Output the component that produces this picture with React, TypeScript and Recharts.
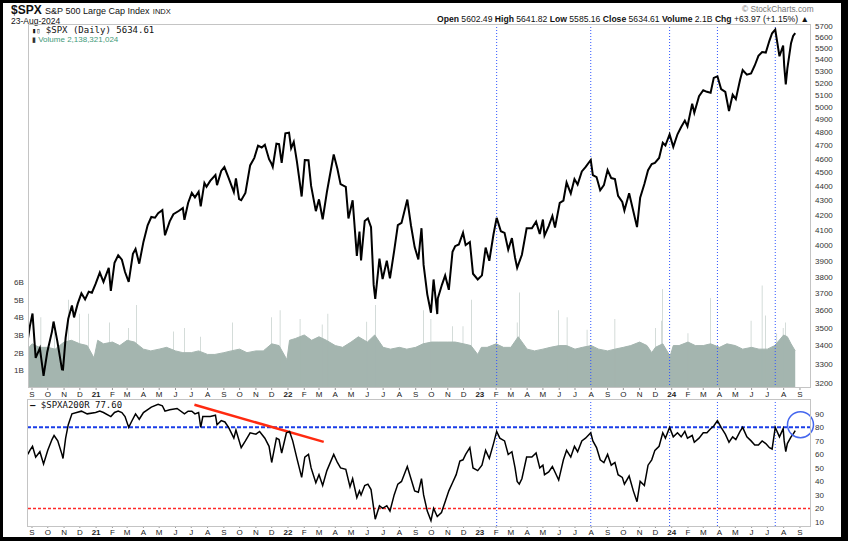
import React from 'react';
import { ComposedChart, LineChart, Line, Area, Bar, XAxis, YAxis, ReferenceLine, ReferenceDot } from 'recharts';

// daily close of $SPX
const spx: [string, number][] = [
  ['2020-08-24', 3431], ['2020-08-28', 3508], ['2020-09-02', 3580], ['2020-09-08', 3332], ['2020-09-16', 3385],
  ['2020-09-23', 3237], ['2020-09-30', 3363], ['2020-10-09', 3477], ['2020-10-12', 3534], ['2020-10-19', 3427],
  ['2020-10-28', 3271], ['2020-10-30', 3270], ['2020-11-04', 3443], ['2020-11-09', 3550], ['2020-11-16', 3627],
  ['2020-11-20', 3558], ['2020-11-27', 3638], ['2020-12-04', 3699], ['2020-12-11', 3663], ['2020-12-18', 3709],
  ['2020-12-24', 3703], ['2020-12-31', 3756], ['2021-01-08', 3825], ['2021-01-15', 3768], ['2021-01-25', 3855],
  ['2021-01-29', 3714], ['2021-02-05', 3887], ['2021-02-12', 3934], ['2021-02-19', 3906], ['2021-02-25', 3829],
  ['2021-03-04', 3768], ['2021-03-12', 3943], ['2021-03-17', 3974], ['2021-03-24', 3881], ['2021-04-01', 4020],
  ['2021-04-09', 4129], ['2021-04-16', 4185], ['2021-04-23', 4180], ['2021-04-29', 4211], ['2021-05-07', 4232],
  ['2021-05-12', 4063], ['2021-05-21', 4156], ['2021-05-28', 4204], ['2021-06-07', 4226], ['2021-06-15', 4246],
  ['2021-06-18', 4166], ['2021-06-25', 4281], ['2021-07-02', 4352], ['2021-07-08', 4320], ['2021-07-15', 4360],
  ['2021-07-19', 4258], ['2021-07-26', 4422], ['2021-07-30', 4395], ['2021-08-06', 4437], ['2021-08-16', 4479],
  ['2021-08-19', 4406], ['2021-08-27', 4509], ['2021-09-02', 4537], ['2021-09-10', 4459], ['2021-09-20', 4358],
  ['2021-09-24', 4455], ['2021-09-30', 4308], ['2021-10-04', 4300], ['2021-10-12', 4351], ['2021-10-21', 4549],
  ['2021-10-29', 4605], ['2021-11-05', 4697], ['2021-11-12', 4683], ['2021-11-18', 4704], ['2021-11-26', 4595],
  ['2021-11-30', 4567], ['2021-12-03', 4538], ['2021-12-10', 4712], ['2021-12-15', 4709], ['2021-12-20', 4568],
  ['2021-12-27', 4791], ['2022-01-03', 4796], ['2022-01-07', 4677], ['2022-01-12', 4726], ['2022-01-18', 4577],
  ['2022-01-24', 4410], ['2022-01-27', 4326], ['2022-02-02', 4589], ['2022-02-09', 4587], ['2022-02-14', 4401],
  ['2022-02-23', 4225], ['2022-03-01', 4306], ['2022-03-08', 4170], ['2022-03-16', 4357], ['2022-03-21', 4461],
  ['2022-03-29', 4631], ['2022-04-05', 4525], ['2022-04-11', 4413], ['2022-04-21', 4394], ['2022-04-26', 4175],
  ['2022-05-04', 4300], ['2022-05-12', 3930], ['2022-05-17', 4088], ['2022-05-20', 3901], ['2022-05-27', 4158],
  ['2022-06-02', 4176], ['2022-06-08', 4116], ['2022-06-13', 3750], ['2022-06-16', 3666], ['2022-06-24', 3912],
  ['2022-06-30', 3785], ['2022-07-08', 3899], ['2022-07-14', 3790], ['2022-07-22', 3962], ['2022-07-29', 4130],
  ['2022-08-05', 4145], ['2022-08-16', 4305], ['2022-08-23', 4128], ['2022-08-30', 3986], ['2022-09-06', 3908],
  ['2022-09-12', 4110], ['2022-09-16', 3873], ['2022-09-23', 3693], ['2022-09-30', 3585], ['2022-10-05', 3783],
  ['2022-10-12', 3577], ['2022-10-13', 3669], ['2022-10-21', 3752], ['2022-10-27', 3807], ['2022-11-03', 3720],
  ['2022-11-10', 3956], ['2022-11-15', 3992], ['2022-11-22', 4003], ['2022-11-30', 4080], ['2022-12-05', 3999],
  ['2022-12-13', 4019], ['2022-12-19', 3818], ['2022-12-28', 3783], ['2023-01-05', 3808], ['2023-01-12', 3983],
  ['2023-01-19', 3899], ['2023-01-27', 4070], ['2023-02-02', 4179], ['2023-02-10', 4090], ['2023-02-17', 4079],
  ['2023-02-24', 3970], ['2023-03-03', 4045], ['2023-03-09', 3918], ['2023-03-13', 3855], ['2023-03-22', 3937],
  ['2023-03-31', 4109], ['2023-04-10', 4109], ['2023-04-18', 4154], ['2023-04-25', 4071], ['2023-05-01', 4168],
  ['2023-05-04', 4061], ['2023-05-12', 4124], ['2023-05-19', 4192], ['2023-05-24', 4115], ['2023-06-02', 4282],
  ['2023-06-09', 4298], ['2023-06-15', 4425], ['2023-06-23', 4348], ['2023-06-30', 4450], ['2023-07-06', 4411],
  ['2023-07-14', 4505], ['2023-07-21', 4536], ['2023-07-31', 4589], ['2023-08-04', 4478], ['2023-08-11', 4464],
  ['2023-08-18', 4370], ['2023-08-25', 4406], ['2023-09-01', 4515], ['2023-09-08', 4457], ['2023-09-15', 4450],
  ['2023-09-21', 4330], ['2023-09-29', 4288], ['2023-10-03', 4229], ['2023-10-12', 4349], ['2023-10-20', 4224],
  ['2023-10-27', 4117], ['2023-11-02', 4318], ['2023-11-10', 4415], ['2023-11-17', 4514], ['2023-11-24', 4559],
  ['2023-11-30', 4568], ['2023-12-08', 4604], ['2023-12-15', 4719], ['2023-12-20', 4698], ['2023-12-28', 4783],
  ['2024-01-04', 4688], ['2024-01-12', 4784], ['2024-01-19', 4840], ['2024-01-26', 4891], ['2024-01-31', 4846],
  ['2024-02-09', 5027], ['2024-02-13', 4954], ['2024-02-22', 5088], ['2024-03-01', 5137], ['2024-03-08', 5124],
  ['2024-03-15', 5117], ['2024-03-21', 5241], ['2024-03-28', 5254], ['2024-04-04', 5147], ['2024-04-12', 5123],
  ['2024-04-19', 4967], ['2024-04-26', 5100], ['2024-05-02', 5064], ['2024-05-10', 5223], ['2024-05-15', 5308],
  ['2024-05-23', 5268], ['2024-05-31', 5278], ['2024-06-07', 5347], ['2024-06-14', 5431], ['2024-06-21', 5465],
  ['2024-06-28', 5460], ['2024-07-05', 5567], ['2024-07-10', 5633], ['2024-07-16', 5667], ['2024-07-24', 5427],
  ['2024-07-31', 5522], ['2024-08-02', 5346], ['2024-08-05', 5186], ['2024-08-08', 5319], ['2024-08-15', 5543],
  ['2024-08-19', 5608], ['2024-08-23', 5634],
];

// $SPXA200R - % of S&P 500 stocks above their 200 day MA
const breadth: [string, number][] = [
  ['2020-08-24', 60], ['2020-08-28', 63], ['2020-09-02', 66], ['2020-09-08', 58], ['2020-09-16', 62],
  ['2020-09-23', 53], ['2020-10-01', 63], ['2020-10-09', 71], ['2020-10-13', 74], ['2020-10-20', 70],
  ['2020-10-28', 60], ['2020-10-30', 57], ['2020-11-04', 72], ['2020-11-09', 82], ['2020-11-16', 90],
  ['2020-11-25', 91], ['2020-12-04', 92], ['2020-12-15', 90], ['2020-12-31', 91], ['2021-01-08', 92],
  ['2021-01-15', 91], ['2021-01-29', 88], ['2021-02-05', 91], ['2021-02-12', 92], ['2021-02-19', 91],
  ['2021-02-25', 88], ['2021-03-04', 80], ['2021-03-09', 84], ['2021-03-17', 90], ['2021-03-24', 86],
  ['2021-04-01', 91], ['2021-04-16', 95], ['2021-04-29', 97], ['2021-05-07', 96], ['2021-05-12', 92],
  ['2021-05-21', 93], ['2021-06-04', 94], ['2021-06-18', 90], ['2021-06-25', 92], ['2021-07-02', 92],
  ['2021-07-08', 90], ['2021-07-15', 91], ['2021-07-19', 80], ['2021-07-23', 88], ['2021-08-06', 88],
  ['2021-08-16', 89], ['2021-08-19', 82], ['2021-08-27', 85], ['2021-09-03', 84], ['2021-09-10', 80],
  ['2021-09-20', 72], ['2021-09-24', 78], ['2021-10-04', 65], ['2021-10-12', 70], ['2021-10-21', 76],
  ['2021-11-01', 75], ['2021-11-08', 77], ['2021-11-18', 72], ['2021-11-26', 66], ['2021-12-01', 54],
  ['2021-12-03', 58], ['2021-12-10', 72], ['2021-12-15', 71], ['2021-12-20', 61], ['2021-12-29', 76],
  ['2022-01-04', 77], ['2022-01-10', 70], ['2022-01-18', 57], ['2022-01-27', 43], ['2022-02-02', 58],
  ['2022-02-09', 60], ['2022-02-14', 50], ['2022-02-23', 39], ['2022-03-01', 45], ['2022-03-08', 37],
  ['2022-03-16', 48], ['2022-03-29', 60], ['2022-04-05', 54], ['2022-04-11', 50], ['2022-04-21', 49],
  ['2022-04-29', 36], ['2022-05-04', 42], ['2022-05-12', 28], ['2022-05-17', 33], ['2022-05-20', 30],
  ['2022-05-27', 37], ['2022-06-02', 38], ['2022-06-08', 34], ['2022-06-16', 12], ['2022-06-24', 22],
  ['2022-06-30', 20], ['2022-07-08', 22], ['2022-07-14', 18], ['2022-07-22', 30], ['2022-07-29', 38],
  ['2022-08-05', 40], ['2022-08-16', 51], ['2022-08-23', 42], ['2022-08-30', 33], ['2022-09-06', 32],
  ['2022-09-12', 42], ['2022-09-16', 30], ['2022-09-23', 18], ['2022-09-30', 11], ['2022-10-05', 20],
  ['2022-10-12', 14], ['2022-10-20', 17], ['2022-10-27', 25], ['2022-11-03', 33], ['2022-11-10', 39],
  ['2022-11-17', 45], ['2022-11-24', 55], ['2022-11-30', 56], ['2022-12-05', 60], ['2022-12-13', 65],
  ['2022-12-19', 50], ['2022-12-28', 48], ['2023-01-05', 52], ['2023-01-12', 63], ['2023-01-19', 57],
  ['2023-01-27', 68], ['2023-02-02', 77], ['2023-02-08', 72], ['2023-02-17', 70], ['2023-02-24', 60],
  ['2023-03-03', 62], ['2023-03-09', 50], ['2023-03-13', 40], ['2023-03-17', 38], ['2023-03-22', 42],
  ['2023-03-31', 58], ['2023-04-10', 58], ['2023-04-18', 61], ['2023-04-25', 50], ['2023-05-01', 52],
  ['2023-05-04', 45], ['2023-05-12', 47], ['2023-05-19', 51], ['2023-05-31', 41], ['2023-06-09', 56],
  ['2023-06-15', 63], ['2023-06-23', 58], ['2023-06-30', 66], ['2023-07-06', 62], ['2023-07-14', 70],
  ['2023-07-21', 72], ['2023-07-31', 76], ['2023-08-04', 70], ['2023-08-11', 65], ['2023-08-18', 56],
  ['2023-08-25', 54], ['2023-09-01', 60], ['2023-09-08', 52], ['2023-09-15', 54], ['2023-09-21', 45],
  ['2023-09-29', 43], ['2023-10-03', 38], ['2023-10-12', 44], ['2023-10-20', 33], ['2023-10-27', 25],
  ['2023-11-02', 40], ['2023-11-10', 37], ['2023-11-17', 52], ['2023-11-24', 56], ['2023-11-30', 63],
  ['2023-12-08', 66], ['2023-12-15', 76], ['2023-12-20', 72], ['2023-12-28', 80], ['2024-01-04', 73],
  ['2024-01-12', 76], ['2024-01-19', 73], ['2024-01-26', 77], ['2024-01-31', 72], ['2024-02-09', 74],
  ['2024-02-13', 69], ['2024-02-22', 72], ['2024-03-01', 76], ['2024-03-08', 76], ['2024-03-15', 79],
  ['2024-03-21', 81], ['2024-03-28', 85], ['2024-04-04', 80], ['2024-04-12', 75], ['2024-04-19', 69],
  ['2024-04-26', 73], ['2024-05-02', 71], ['2024-05-10', 77], ['2024-05-15', 80], ['2024-05-23', 73],
  ['2024-05-31', 70], ['2024-06-07', 67], ['2024-06-14', 67], ['2024-06-21', 70], ['2024-06-28', 68],
  ['2024-07-05', 65], ['2024-07-10', 64], ['2024-07-16', 80], ['2024-07-24', 73], ['2024-07-31', 79],
  ['2024-08-02', 70], ['2024-08-05', 62], ['2024-08-08', 68], ['2024-08-15', 73], ['2024-08-19', 75],
  ['2024-08-23', 77.6],
];

// volume in billions: typical level, plus the single-day spikes
const volumeBase: [string, number][] = [
  ['2020-08-24', 2.2], ['2020-09-01', 2.5], ['2020-09-15', 2.3], ['2020-10-01', 2.3], ['2020-10-15', 2.2],
  ['2020-11-01', 2.6], ['2020-11-15', 2.7], ['2020-12-01', 2.5], ['2020-12-15', 2.4], ['2020-12-28', 1.7],
  ['2021-01-04', 2.7], ['2021-01-15', 2.5], ['2021-02-01', 2.6], ['2021-02-15', 2.4], ['2021-03-01', 2.7],
  ['2021-03-15', 2.6], ['2021-04-01', 2.2], ['2021-04-15', 2.1], ['2021-05-01', 2.2], ['2021-05-15', 2.3],
  ['2021-06-01', 2.1], ['2021-06-15', 2.0], ['2021-07-01', 2.0], ['2021-07-15', 2.1], ['2021-08-01', 1.9],
  ['2021-08-15', 1.9], ['2021-09-01', 2.0], ['2021-09-15', 2.1], ['2021-10-01', 2.2], ['2021-10-15', 2.0],
  ['2021-11-01', 2.1], ['2021-11-15', 2.1], ['2021-12-01', 2.5], ['2021-12-15', 2.4], ['2021-12-30', 1.6],
  ['2022-01-04', 2.7], ['2022-01-15', 2.8], ['2022-02-01', 3.0], ['2022-02-15', 2.7], ['2022-03-01', 2.9],
  ['2022-03-15', 2.7], ['2022-04-01', 2.4], ['2022-04-15', 2.3], ['2022-05-01', 2.6], ['2022-05-15', 2.9],
  ['2022-06-01', 2.6], ['2022-06-15', 3.0], ['2022-07-01', 2.3], ['2022-07-15', 2.2], ['2022-08-01', 2.3],
  ['2022-08-15', 2.2], ['2022-09-01', 2.3], ['2022-09-15', 2.5], ['2022-10-01', 2.6], ['2022-10-15', 2.6],
  ['2022-11-01', 2.6], ['2022-11-15', 2.6], ['2022-12-01', 2.5], ['2022-12-15', 2.4], ['2022-12-28', 1.9],
  ['2023-01-04', 2.3], ['2023-01-15', 2.3], ['2023-02-01', 2.5], ['2023-02-15', 2.3], ['2023-03-01', 2.3],
  ['2023-03-15', 2.9], ['2023-04-01', 2.2], ['2023-04-15', 2.1], ['2023-05-01', 2.2], ['2023-05-15', 2.3],
  ['2023-06-01', 2.4], ['2023-06-15', 2.4], ['2023-07-01', 2.2], ['2023-07-15', 2.3], ['2023-08-01', 2.4],
  ['2023-08-15', 2.2], ['2023-09-01', 2.1], ['2023-09-15', 2.2], ['2023-10-01', 2.3], ['2023-10-15', 2.4],
  ['2023-11-01', 2.6], ['2023-11-15', 2.4], ['2023-11-24', 2.0], ['2023-12-01', 2.3], ['2023-12-15', 2.5],
  ['2023-12-29', 1.8], ['2024-01-04', 2.4], ['2024-01-15', 2.4], ['2024-02-01', 2.6], ['2024-02-15', 2.4],
  ['2024-03-01', 2.4], ['2024-03-15', 2.5], ['2024-04-01', 2.3], ['2024-04-15', 2.5], ['2024-05-01', 2.4],
  ['2024-05-15', 2.2], ['2024-06-01', 2.3], ['2024-06-15', 2.2], ['2024-07-01', 2.2], ['2024-07-15', 2.4],
  ['2024-08-01', 3.0], ['2024-08-08', 2.9], ['2024-08-15', 2.5], ['2024-08-23', 2.1],
];

const volumeSpikes: [string, number][] = [
  ['2020-09-18', 4.0], ['2020-10-14', 3.2], ['2020-11-10', 5.0], ['2020-11-30', 4.2], ['2020-12-18', 4.2],
  ['2021-01-27', 3.7], ['2021-03-04', 3.4], ['2021-03-19', 4.7], ['2021-05-28', 3.2], ['2021-06-18', 3.4],
  ['2021-07-19', 2.9], ['2021-09-17', 3.7], ['2021-12-01', 4.0], ['2021-12-17', 4.4], ['2022-01-24', 3.9],
  ['2022-03-07', 3.6], ['2022-03-18', 4.2], ['2022-05-31', 3.75], ['2022-06-17', 4.7], ['2022-09-16', 4.4],
  ['2022-09-30', 3.9], ['2022-11-10', 3.5], ['2022-11-30', 3.5], ['2022-12-16', 5.0], ['2023-02-02', 3.1],
  ['2023-03-13', 3.7], ['2023-03-17', 5.4], ['2023-05-31', 4.4], ['2023-06-16', 4.0], ['2023-07-24', 3.3],
  ['2023-09-15', 3.9], ['2023-12-01', 3.4], ['2023-12-13', 3.8], ['2023-12-15', 5.6], ['2024-02-01', 3.1],
  ['2024-03-15', 5.1], ['2024-05-31', 3.8], ['2024-06-21', 5.8], ['2024-06-28', 4.1], ['2024-07-19', 3.1],
  ['2024-07-31', 3.4], ['2024-08-05', 3.7],
];

const priceTicks = [3200, 3300, 3400, 3500, 3600, 3700, 3800, 3900, 4000, 4100, 4200, 4300, 4400,
  4500, 4600, 4700, 4800, 4900, 5000, 5100, 5200, 5300, 5400, 5500, 5600, 5700];
const volumeTicks = [1, 2, 3, 4, 5, 6];
const breadthTicks = [10, 20, 30, 40, 50, 60, 70, 80, 90];
const markerDates = ['2023-02-02', '2023-07-31', '2023-12-28', '2024-03-28', '2024-07-16'];
const trendLine: [string, number][] = [['2021-07-07', 96.7], ['2022-03-10', 69.3]];
const monthLetters = ['J', 'F', 'M', 'A', 'M', 'J', 'J', 'A', 'S', 'O', 'N', 'D'];

const ORIGIN = Date.UTC(2020, 8, 1);
const dayOf = (s: string) => (Date.parse(s + 'T00:00:00Z') - ORIGIN) / 864e5;
const X_DOMAIN: [number, number] = [-7.6, 1482];

const monthTicks: number[] = [];
for (let y = 2020, m = 8; y * 12 + m <= 2024 * 12 + 8; m++) {
  if (m > 11) { m = 0; y++; }
  monthTicks.push((Date.UTC(y, m, 1) - ORIGIN) / 864e5);
}

const rows = new Map<number, any>();
const put = (list: [string, number][], key: string, k = 1) =>
  list.forEach(([d, v]) => {
    const x = dayOf(d);
    const r = rows.get(x) ?? { x };
    r[key] = v * k;
    rows.set(x, r);
  });
put(spx, 'close');
put(volumeBase, 'vol', 1e9);
put(volumeSpikes, 'spike', 1e9);
const mainData = [...rows.values()].sort((a, b) => a.x - b.x);
const breadthData = breadth.map(([d, v]) => ({ x: dayOf(d), v }));

const FONT = '"Liberation Sans", Arial, sans-serif';
const MONO = '"DejaVu Sans Mono", "Liberation Mono", monospace';
const VOL_COLOR = '#a4b5af';
const BLUE = '#2f55ff';

const monthTick = (baseline: number) => ({ x, payload }: any) => {
  const d = new Date(ORIGIN + payload.value * 864e5);
  const m = d.getUTCMonth();
  return (
    <text x={x} y={baseline} textAnchor="middle" fontSize={8} fontFamily={FONT} fill="#222"
      fontWeight={m === 0 ? 'bold' : 'normal'}>
      {m === 0 ? String(d.getUTCFullYear()).slice(2) : monthLetters[m]}
    </text>
  );
};

const rightTick = ({ y, payload }: any) => (
  <text x={815} y={y + 3} fontSize={8} fontFamily={FONT} fill="#333">{payload.value}</text>
);

const volTick = ({ y, payload }: any) => (
  <text x={14} y={y + 3} fontSize={8} fontFamily={FONT} fill="#333">{Math.round(payload.value / 1e9)}B</text>
);

const abs = (left: number, top: number, extra: React.CSSProperties = {}): React.CSSProperties => ({
  position: 'absolute', left, top, whiteSpace: 'nowrap', lineHeight: 1, ...extra,
});

export default function App() {
  return (
    <div style={{ position: 'absolute', left: 0, top: 0, width: 848, height: 541, background: '#000' }}>
      <div style={{ position: 'absolute', left: 3, top: 3, width: 838, height: 534, background: '#fff' }} />

      <div style={abs(11, 4, { fontFamily: FONT, fontSize: 12, fontWeight: 'bold', color: '#111' })}>
        $SPX <span style={{ fontSize: 9, fontWeight: 'normal' }}>S&amp;P 500 Large Cap Index</span>{' '}
        <span style={{ fontSize: 7.5, fontWeight: 'normal' }}>INDX</span>
      </div>
      <div style={abs(11, 17, { fontFamily: FONT, fontSize: 8.5, color: '#111' })}>23-Aug-2024</div>
      <div style={abs(742, 5, { fontFamily: FONT, fontSize: 8.3, color: '#777' })}>© StockCharts.com</div>
      <div style={abs(437, 15, { fontFamily: FONT, fontSize: 8.6, color: '#111' })}>
        <b>Open</b> 5602.49 <b>High</b> 5641.82 <b>Low</b> 5585.16 <b>Close</b> 5634.61{' '}
        <b>Volume</b> 2.1B <b>Chg</b> +63.97 (+1.15%) ▲
      </div>

      <div style={abs(0, 0)}>
        <ComposedChart width={848} height={400} data={mainData} margin={{ top: 24, right: 7, bottom: 0, left: 0 }}>
          <XAxis dataKey="x" type="number" domain={X_DOMAIN} ticks={monthTicks} allowDataOverflow
            height={12} tick={monthTick(397)} tickSize={2} tickLine={{ stroke: '#999' }} axisLine={false} interval={0} />
          <YAxis yAxisId="vol" orientation="left" width={28} domain={[0, 20.6e9]} allowDataOverflow
            ticks={volumeTicks.map((v) => v * 1e9)} tick={volTick} tickLine={false} axisLine={false} interval={0} />
          <YAxis yAxisId="price" orientation="right" width={30} scale="log" domain={[3174, 5718]}
            allowDataOverflow ticks={priceTicks} tick={rightTick} tickLine={false} axisLine={false} interval={0} />
          <Area yAxisId="vol" dataKey="vol" type="linear" stroke={VOL_COLOR} fill={VOL_COLOR} fillOpacity={1}
            connectNulls isAnimationActive={false} />
          <Bar yAxisId="vol" dataKey="spike" fill={VOL_COLOR} barSize={2} isAnimationActive={false} />
          {markerDates.map((d) => (
            <ReferenceLine key={d} yAxisId="price" x={dayOf(d)} stroke={BLUE} strokeDasharray="1 2" />
          ))}
          <Line yAxisId="price" dataKey="close" type="linear" stroke="#000" strokeWidth={2} dot={false}
            connectNulls isAnimationActive={false} />
        </ComposedChart>
      </div>

      <div style={abs(0, 0)}>
        <LineChart width={848} height={541} data={breadthData} margin={{ top: 399, right: 7, bottom: 3, left: 28 }}>
          <XAxis dataKey="x" type="number" domain={X_DOMAIN} ticks={monthTicks} allowDataOverflow
            height={12} tick={monthTick(535)} tickSize={2} tickLine={{ stroke: '#999' }} axisLine={false} interval={0} />
          <YAxis orientation="right" width={30} domain={[7, 101]} allowDataOverflow ticks={breadthTicks}
            tick={rightTick} tickLine={false} axisLine={false} interval={0} />
          {markerDates.map((d) => (
            <ReferenceLine key={d} x={dayOf(d)} stroke={BLUE} strokeDasharray="1 2" />
          ))}
          <ReferenceLine y={80} stroke="#1a3de8" strokeWidth={2} strokeDasharray="4 2" />
          <ReferenceLine y={20} stroke="#ff2a2a" strokeWidth={1.5} strokeDasharray="3 2" />
          <ReferenceLine
            segment={trendLine.map(([d, v]) => ({ x: dayOf(d), y: v }))}
            stroke="#ff2a10" strokeWidth={2.5}
          />
          <Line dataKey="v" type="linear" stroke="#000" strokeWidth={1.5} dot={false} isAnimationActive={false} />
          <ReferenceDot x={dayOf('2024-09-02')} y={82} r={13} fill="none" stroke="#4466ee" strokeWidth={1.5}
            ifOverflow="visible" />
        </LineChart>
      </div>

      <div style={abs(28, 24, { width: 783, height: 364, border: '1px solid #c4c4c4', boxSizing: 'border-box', pointerEvents: 'none' })} />
      <div style={abs(27, 399, { width: 784, height: 128, border: '1px solid #c4c4c4', boxSizing: 'border-box', pointerEvents: 'none' })} />

      <div style={abs(32, 26, { fontFamily: MONO, fontSize: 9, color: '#111' })}>
        <span style={{ fontSize: 7 }}>▮▯</span> $SPX (Daily) 5634.61
      </div>
      <div style={abs(32, 36, { fontFamily: FONT, fontSize: 8, color: '#3f9a78' })}>
        <span style={{ color: '#333', fontSize: 7 }}>▮</span> Volume 2,138,321,024
      </div>
      <div style={abs(30, 401, { fontFamily: MONO, fontSize: 9, color: '#111' })}>
        <b>—</b> $SPXA200R 77.60
      </div>
    </div>
  );
}
